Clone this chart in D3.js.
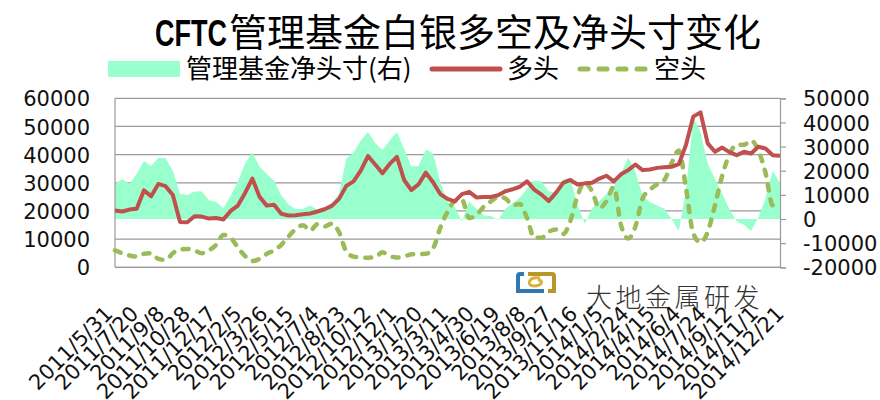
<!DOCTYPE html>
<html>
<head>
<meta charset="utf-8">
<script src="https://cdn.jsdelivr.net/npm/d3@7"></script>
<style>
  body { margin: 0; background: #fff; }
  svg text { font-family: "DejaVu Sans", sans-serif; }
  .cjk { font-family: "Noto Sans CJK SC", sans-serif; }
</style>
</head>
<body>
<div id="chart"></div>
<script>
// CFTC report every two weeks, starting 2011/5/31
const startDate = "2011/5/31";
const stepDays = 14;

const tickLabels = ["2011/5/31", "2011/7/20", "2011/9/8", "2011/10/28", "2011/12/17",
    "2012/2/5", "2012/3/26", "2012/5/15", "2012/7/4", "2012/8/23", "2012/10/12",
    "2012/12/1", "2013/1/20", "2013/3/11", "2013/4/30", "2013/6/19", "2013/8/8",
    "2013/9/27", "2013/11/16", "2014/1/5", "2014/2/24", "2014/4/15", "2014/6/4",
    "2014/7/24", "2014/9/12", "2014/11/1", "2014/12/21"];

const leftTicks = [0, 10000, 20000, 30000, 40000, 50000, 60000];
const rightTicks = [-20000, -10000, 0, 10000, 20000, 30000, 40000, 50000];

// 管理基金净头寸 (right axis)
const netPosition = [
    14600, 16500, 14500, 18800, 24000, 22000, 25400, 25200, 20000, 10500, 9900, 11400,
    11400, 7800, 7000, 4500, 9600, 15500, 23000, 27500, 21600, 18600, 16000, 9800,
    6000, 4000, 4200, 5600, 3800, 5000, 6500, 10500, 25000, 27500, 32500, 36000,
    31500, 28500, 32500, 36000, 29000, 21800, 22000, 28800, 27100, 15500, 7000, 5000,
    -1000, 7200, 4300, 1500, 1200, -500, 4300, 6500, 8800, 12500, 16000, 15500,
    11500, 11000, 16500, 17000, 5700, -2000, 4500, 7500, 10500, 13500, 19000,
    25500, 19500, 9500, 7000, 5600, 4300, 0, -5000, 12000, 42000, 36000, 23000,
    16500, 10500, 4000, -1000, -2400, -5000, 500, 8500, 20000, 15000];

// 多头 (left axis)
const longPosition = [
    20200, 19800, 20500, 20800, 27300, 25200, 29600, 28800, 25700, 16100, 16000, 18100,
    18000, 17300, 17500, 17000, 20000, 21900, 26400, 31500, 25000, 21900, 22200, 19000,
    18400, 18500, 18800, 19100, 19800, 20600, 21800, 24300, 28900, 30500, 34300, 39500,
    36500, 33400, 36700, 39200, 31000, 27400, 29500, 33600, 30200, 26000, 24300, 23400,
    26000, 26800, 24800, 25000, 25000, 25600, 27000, 27700, 28600, 30500, 27600, 25800,
    23500, 26400, 30000, 31000, 29400, 29800, 30000, 31500, 32500, 30500, 33000,
    34500, 36500, 34500, 34700, 35300, 35500, 35700, 36600, 43500, 53500, 55000, 44000,
    41000, 42500, 40900, 39800, 41000, 40400, 42800, 42200, 39800, 39600];

// 空头 (left axis)
const shortPosition = [
    6000, 5000, 4200, 3800, 4800, 5000, 3000, 2600, 5000, 6300, 6500, 6000,
    5000, 6000, 8000, 11500, 10500, 7000, 4000, 2200, 3000, 4800, 6000, 8000,
    10900, 13600, 14900, 13000, 15300, 14500, 15500, 12500, 5600, 3800, 3500, 3400,
    3600, 5300, 4000, 3500, 3800, 4600, 4700, 4800, 6700, 14000, 19700, 23500,
    24000, 17500, 18500, 21500, 23400, 25000, 24500, 22000, 22500, 17500, 10500, 10500,
    12600, 13400, 11800, 16500, 25500, 30000, 27000, 21000, 23500, 28500, 15000,
    10200, 14500, 24500, 27500, 29500, 31000, 37000, 41500, 28000, 12000, 8800, 12600,
    22000, 32500, 40000, 43500, 43500, 45000, 41500, 33500, 22000, 22600];

const parseDate = d3.timeParse("%Y/%m/%d");
const dates = netPosition.map((d, i) => d3.timeDay.offset(parseDate(startDate), i * stepDays));
const rows = dates.map((d, i) => ({
    date: d, net: netPosition[i], long: longPosition[i], short: shortPosition[i]
}));

const width = 880, height = 400;
const plot = { left: 115, right: 780, top: 98.3, bottom: 267.3 };

const svg = d3.select("#chart").append("svg")
    .attr("width", width)
    .attr("height", height);

const x = d3.scaleTime()
    .domain(d3.extent(dates))
    .range([plot.left, plot.right]);
const yLeft = d3.scaleLinear().domain([0, 60000]).range([plot.bottom, plot.top]);
const yRight = d3.scaleLinear().domain([-20000, 50000]).range([plot.bottom, plot.top]);

// title
svg.append("text")
    .attr("x", 155).attr("y", 46)
    .attr("textLength", 72).attr("lengthAdjust", "spacingAndGlyphs")
    .style("font-family", "'Liberation Sans', sans-serif")
    .style("font-weight", "bold")
    .style("font-size", "37px")
    .text("CFTC");
svg.append("text")
    .attr("class", "cjk")
    .attr("x", 229).attr("y", 46)
    .style("font-size", "38px")
    .style("font-weight", 400)
    .text("管理基金白银多空及净头寸变化");

// legend
const lg = svg.append("g").attr("class", "legend");
lg.append("rect").attr("x", 108).attr("y", 61).attr("width", 72).attr("height", 16).attr("fill", "#99FFCC");
lg.append("text").attr("class", "cjk").attr("x", 186).attr("y", 78).style("font-size", "26px").text("管理基金净头寸(右)");
lg.append("line").attr("x1", 432).attr("x2", 500).attr("y1", 69).attr("y2", 69)
    .attr("stroke", "#C0504D").attr("stroke-width", 5).attr("stroke-linecap", "round");
lg.append("text").attr("class", "cjk").attr("x", 507).attr("y", 78).style("font-size", "26px").text("多头");
lg.append("line").attr("x1", 580).attr("x2", 648).attr("y1", 69).attr("y2", 69)
    .attr("stroke", "#9BBB59").attr("stroke-width", 5).attr("stroke-linecap", "round")
    .attr("stroke-dasharray", "8,11");
lg.append("text").attr("class", "cjk").attr("x", 654).attr("y", 78).style("font-size", "26px").text("空头");

// gridlines
svg.append("g")
    .selectAll("line")
    .data(leftTicks)
    .join("line")
    .attr("x1", plot.left).attr("x2", plot.right)
    .attr("y1", d => yLeft(d)).attr("y2", d => yLeft(d))
    .attr("stroke", "#9a9a9a").attr("stroke-width", 1.2);

// net position area
const area = d3.area()
    .x(d => x(d.date))
    .y0(yRight(0))
    .y1(d => yRight(d.net));
svg.append("path")
    .datum(rows)
    .attr("fill", "#99FFCC")
    .attr("d", area);

// plot frame
svg.append("line").attr("x1", plot.left).attr("x2", plot.left).attr("y1", plot.top).attr("y2", plot.bottom)
    .attr("stroke", "#9a9a9a").attr("stroke-width", 1.2);
svg.append("line").attr("x1", plot.left).attr("x2", plot.right).attr("y1", plot.bottom).attr("y2", plot.bottom)
    .attr("stroke", "#9a9a9a").attr("stroke-width", 1.2);

// short & long lines
const shortLine = d3.line().x(d => x(d.date)).y(d => yLeft(d.short)).curve(d3.curveMonotoneX);
svg.append("path")
    .datum(rows)
    .attr("fill", "none")
    .attr("stroke", "#9BBB59")
    .attr("stroke-width", 4.5)
    .attr("stroke-linecap", "round")
    .attr("stroke-dasharray", "6,9")
    .attr("d", shortLine);

const longLine = d3.line().x(d => x(d.date)).y(d => yLeft(d.long));
svg.append("path")
    .datum(rows)
    .attr("fill", "none")
    .attr("stroke", "#C0504D")
    .attr("stroke-width", 4)
    .attr("stroke-linejoin", "round")
    .attr("d", longLine);

// left axis
const fmt = d => String(d);
const leftAxis = svg.append("g")
    .attr("transform", `translate(${plot.left},0)`)
    .call(d3.axisLeft(yLeft).tickValues(leftTicks).tickFormat(fmt).tickSize(0).tickPadding(25));
leftAxis.select(".domain").remove();
leftAxis.selectAll("text").style("font-size", "21px").attr("fill", "#111").attr("dy", "0.36em");

// right axis
const rightAxis = svg.append("g")
    .attr("transform", `translate(${plot.right},0)`)
    .call(d3.axisRight(yRight).tickValues(rightTicks).tickFormat(fmt).tickSize(6).tickPadding(17));
rightAxis.select(".domain").attr("stroke", "#9a9a9a").attr("stroke-width", 1.2);
rightAxis.selectAll(".tick line").attr("stroke", "#9a9a9a").attr("stroke-width", 1.2);
rightAxis.selectAll("text").style("font-size", "21px").attr("fill", "#111").attr("dy", "0.36em");

// watermark logo and text
const logo = svg.append("g").attr("transform", "translate(514,270)");
logo.append("path").attr("d", "M2,23 L2,6 Q2,2 6,2 L10,2 L10,6 L6,6 L6,19 L30,19 L30,23 Z").attr("fill", "#2f78b4");
logo.append("path").attr("d", "M14,2 L38,2 Q42,2 42,6 L42,23 L34,23 L34,19 L38,19 L38,6 L14,6 Z").attr("fill", "#b8962b");
logo.append("path").attr("d", "M26,8 C14,6 12,16 20,16 C28,16 30,10 24,10")
    .attr("fill", "none").attr("stroke", "#d8b23a").attr("stroke-width", 3);
svg.append("text")
    .attr("class", "cjk")
    .attr("x", 586).attr("y", 307)
    .style("font-size", "26px")
    .style("font-weight", 300)
    .style("letter-spacing", "3.5px")
    .attr("fill", "#333")
    .text("大地金属研发");

// x axis labels
svg.append("g")
    .selectAll("text")
    .data(tickLabels)
    .join("text")
    .attr("transform", d => `translate(${x(parseDate(d)) - 1},315) rotate(-45)`)
    .attr("text-anchor", "end")
    .style("font-size", "21px")
    .attr("fill", "#111")
    .text(d => d);
</script>
</body>
</html>
